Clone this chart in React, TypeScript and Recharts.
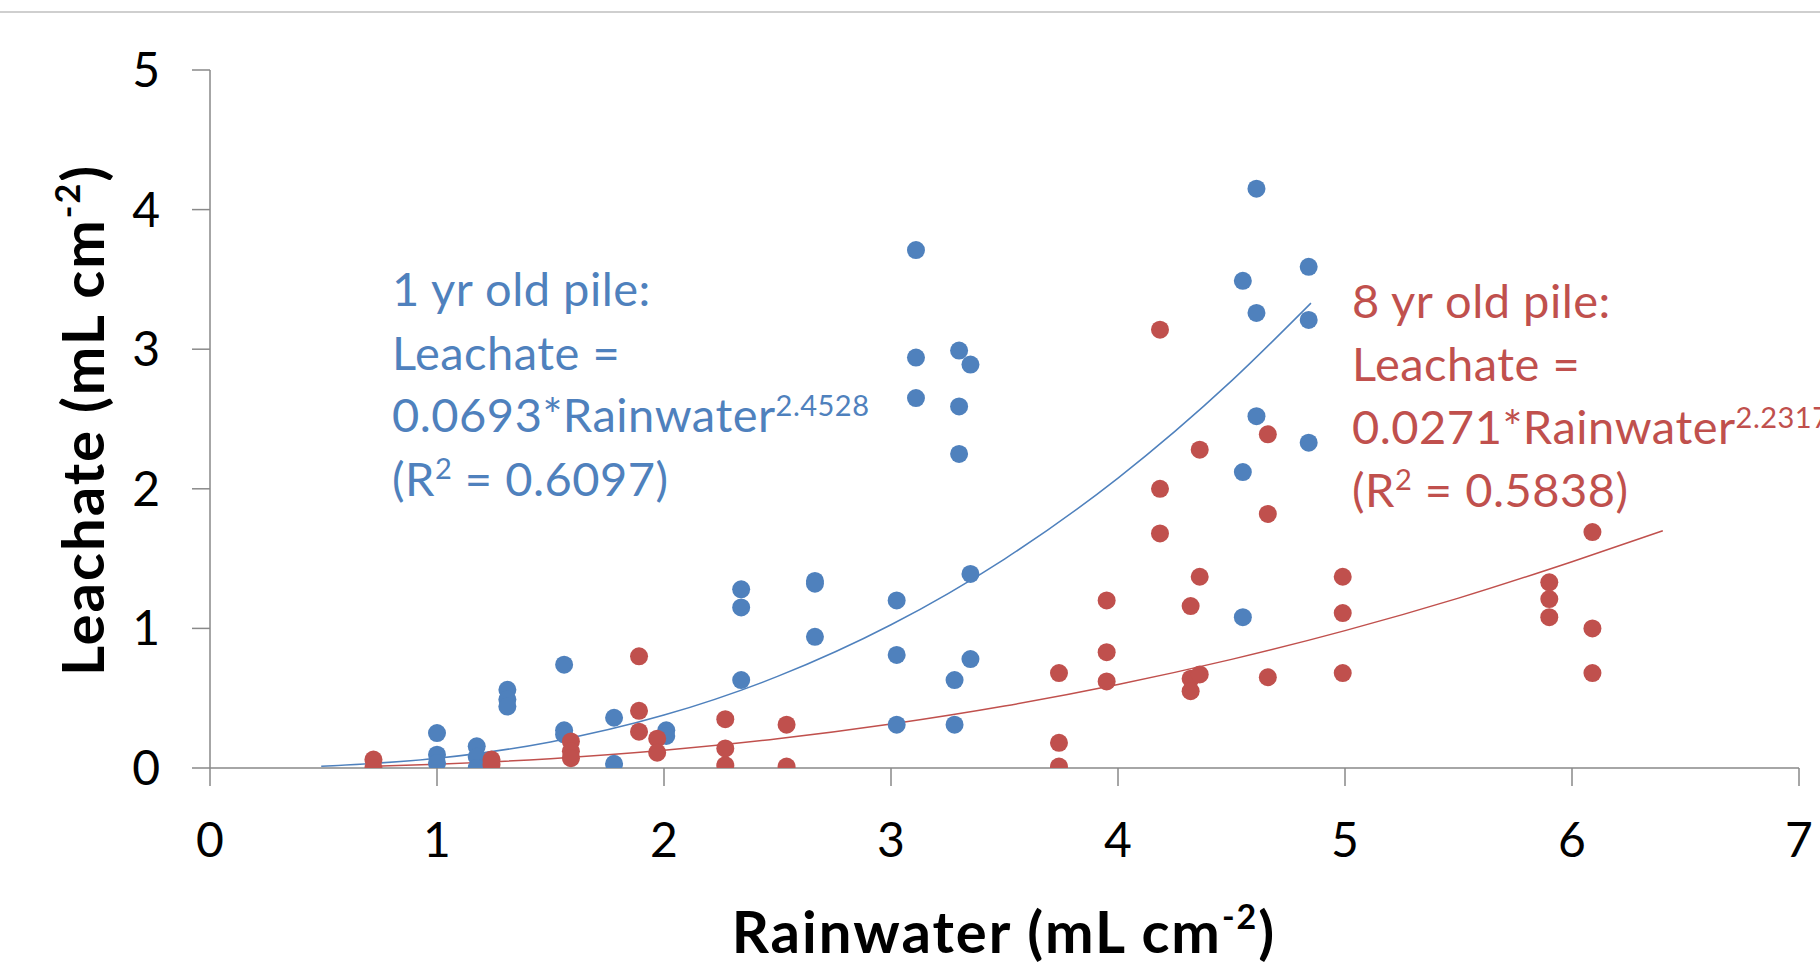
import { ComposedChart, Scatter, Line, XAxis, YAxis } from "recharts";

const BLUE = "#4F81BD";
const RED = "#C0504D";
const AXIS = "#898989";
const FONT = "Lato, 'Open Sans', sans-serif";

const xTicks = [0, 1, 2, 3, 4, 5, 6, 7];
const yTicks = [0, 1, 2, 3, 4, 5];

// 1 yr old pile
const pile1Rain = [
  1.0, 1.0, 1.0, 1.175, 1.175, 1.175, 1.31, 1.31, 1.31, 1.56, 1.56, 1.56,
  1.78, 1.78, 2.01, 2.01, 2.34, 2.34, 2.34, 2.665, 2.665, 2.665,
  3.025, 3.025, 3.025, 3.11, 3.11, 3.11, 3.3, 3.3, 3.3, 3.35, 3.35, 3.35,
  3.28, 3.28, 4.55, 4.55, 4.55, 4.61, 4.61, 4.61, 4.84, 4.84, 4.84,
];
const pile1Leach = [
  0.25, 0.095, 0.036, 0.155, 0.08, 0.0, 0.56, 0.49, 0.44, 0.74, 0.27, 0.24,
  0.36, 0.03, 0.27, 0.23, 1.28, 1.15, 0.63, 1.34, 1.32, 0.94,
  1.2, 0.81, 0.31, 3.71, 2.94, 2.65, 2.99, 2.59, 2.25, 2.89, 1.39, 0.78,
  0.63, 0.31, 3.49, 2.12, 1.08, 4.15, 3.26, 2.52, 3.59, 3.21, 2.33,
];

// 8 yr old pile
const pile8Rain = [
  0.72, 0.72, 1.24, 1.24, 1.59, 1.59, 1.59, 1.89, 1.89, 1.89, 1.97, 1.97,
  2.27, 2.27, 2.27, 2.54, 2.54, 3.74, 3.74, 3.74, 3.95, 3.95, 3.95,
  4.185, 4.185, 4.185, 4.32, 4.32, 4.32, 4.36, 4.36, 4.36, 4.66, 4.66, 4.66,
  4.99, 4.99, 4.99, 5.9, 5.9, 5.9, 6.09, 6.09, 6.09,
];
const pile8Leach = [
  0.06, 0.0, 0.06, 0.025, 0.19, 0.12, 0.07, 0.8, 0.41, 0.26, 0.21, 0.11,
  0.35, 0.14, 0.02, 0.31, 0.01, 0.68, 0.18, 0.01, 1.2, 0.83, 0.62,
  3.14, 2.0, 1.68, 1.16, 0.64, 0.55, 2.28, 1.37, 0.67, 2.39, 1.82, 0.65,
  1.37, 1.11, 0.68, 1.33, 1.21, 1.08, 1.69, 1.0, 0.68,
];

// trendlines as drawn
const trend1Rain = [0.49, 1, 1.5, 2, 2.5, 3, 3.5, 4, 4.5, 4.85];
const trend1Leach = [0.012, 0.069, 0.187, 0.379, 0.656, 1.026, 1.497, 2.077, 2.773, 3.33];
const trend8Rain = [0.72, 1, 1.5, 2, 2.5, 3, 3.5, 4, 4.5, 5, 5.5, 6, 6.4];
const trend8Leach = [0.013, 0.027, 0.067, 0.127, 0.209, 0.315, 0.444, 0.598, 0.778, 0.984, 1.217, 1.478, 1.7];

const zip = (xs: number[], ys: number[]) => xs.map((x, i) => ({ x, y: ys[i] }));

const pile1 = zip(pile1Rain, pile1Leach);
const pile8 = zip(pile8Rain, pile8Leach);
const trend1 = zip(trend1Rain, trend1Leach);
const trend8 = zip(trend8Rain, trend8Leach);

const dot = (fill: string) => (props: any) =>
  <circle cx={props.cx} cy={props.cy} r={9} fill={fill} />;

export default function App() {
  return (
    <div style={{ position: "absolute", left: 0, top: 0, width: 1820, height: 970, overflow: "hidden", background: "#fff" }}>
      <ComposedChart width={1820} height={970} margin={{ top: 70, right: 21, bottom: 0, left: 0 }}>
        <XAxis
          type="number"
          dataKey="x"
          domain={[0, 7]}
          ticks={xTicks}
          interval={0}
          height={202}
          stroke={AXIS}
          strokeWidth={1.5}
          tickSize={18}
          tickMargin={37}
          tick={{ fill: "#000", fontSize: 48, fontFamily: FONT }}
          allowDataOverflow
        />
        <YAxis
          type="number"
          dataKey="y"
          domain={[0, 5]}
          ticks={yTicks}
          interval={0}
          width={210}
          stroke={AXIS}
          strokeWidth={1.5}
          tickSize={18}
          tickMargin={32}
          tick={{ fill: "#000", fontSize: 48, fontFamily: FONT }}
          allowDataOverflow
        />
        <Scatter data={pile1} fill={BLUE} shape={dot(BLUE)} isAnimationActive={false} />
        <Scatter data={pile8} fill={RED} shape={dot(RED)} isAnimationActive={false} />
        <Line data={trend1} dataKey="y" type="monotone" dot={false} stroke={BLUE} strokeWidth={1.5} isAnimationActive={false} />
        <Line data={trend8} dataKey="y" type="monotone" dot={false} stroke={RED} strokeWidth={1.5} isAnimationActive={false} />
      </ComposedChart>

      <svg width={1820} height={970} style={{ position: "absolute", left: 0, top: 0, pointerEvents: "none" }} fontFamily={FONT}>
        <line x1={0} x2={1820} y1={12} y2={12} stroke="#cfcfcf" strokeWidth={2} />

        <text x={1004} y={953} textAnchor="middle" fontSize={58} letterSpacing={2} fontWeight="bold" fill="#000">
          Rainwater (mL cm<tspan fontSize={34} dy={-24}>-2</tspan><tspan dy={24}>)</tspan>
        </text>
        <text x={104} y={420} textAnchor="middle" fontSize={58} letterSpacing={2} fontWeight="bold" fill="#000" transform="rotate(-90 104 420)">
          Leachate (mL cm<tspan fontSize={34} dy={-24}>-2</tspan><tspan dy={24}>)</tspan>
        </text>

        <g fill={BLUE} fontSize={47} letterSpacing={0.5}>
          <text x={392} y={306}>1 yr old pile:</text>
          <text x={392} y={370}>Leachate =</text>
          <text x={392} y={432}>
            0.0693*Rainwater<tspan fontSize={29} dy={-16}>2.4528</tspan>
          </text>
          <text x={392} y={496}>
            (R<tspan fontSize={29} dy={-17}>2</tspan><tspan dy={17}> = 0.6097)</tspan>
          </text>
        </g>

        <g fill={RED} fontSize={47} letterSpacing={0.5}>
          <text x={1352} y={318}>8 yr old pile:</text>
          <text x={1352} y={381}>Leachate =</text>
          <text x={1352} y={444}>
            0.0271*Rainwater<tspan fontSize={29} dy={-16}>2.2317</tspan>
          </text>
          <text x={1352} y={507}>
            (R<tspan fontSize={29} dy={-17}>2</tspan><tspan dy={17}> = 0.5838)</tspan>
          </text>
        </g>
      </svg>
    </div>
  );
}
